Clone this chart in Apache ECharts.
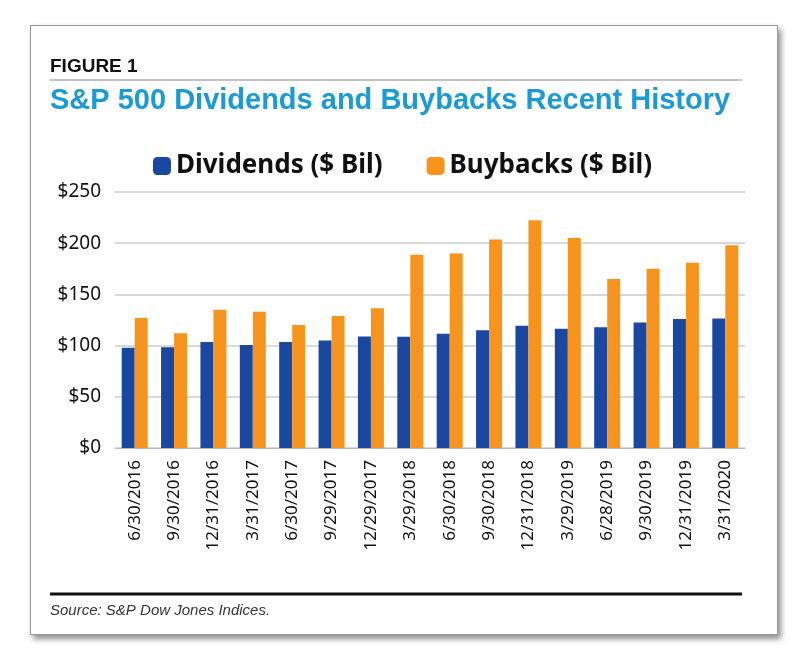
<!DOCTYPE html>
<html>
<head>
<meta charset="utf-8">
<script src="https://cdn.jsdelivr.net/npm/echarts@6/dist/echarts.min.js"></script>
<style>
body { margin: 0; background: #fff; }
#frame { position: absolute; left: 30px; top: 25px; width: 746px; height: 608px; border: 1px solid #999; box-shadow: 3px 4px 6px rgba(0,0,0,0.45); background: #fff; }
#chart { position: absolute; left: 0; top: 0; width: 805px; height: 664px; }
</style>
</head>
<body>
<div id="frame"></div>
<div id="chart"></div>
<script>
let quarters = ["6/30/2016", "9/30/2016", "12/31/2016", "3/31/2017", "6/30/2017", "9/29/2017", "12/29/2017", "3/29/2018",
    "6/30/2018", "9/30/2018", "12/31/2018", "3/29/2019", "6/28/2019", "9/30/2019", "12/31/2019", "3/31/2020"];
let dividends = [98, 98.3, 103.6, 100.6, 103.6, 105, 109, 108.6, 111.5, 115, 119.5, 116.5, 118, 122.5, 126, 126.5];
let buybacks = [127, 112, 135, 133, 120, 129, 136.5, 188.6, 190, 203.5, 222.5, 205, 165, 175, 181, 198];

let chart = echarts.init(document.getElementById("chart"));
let option = {
    animation: false,
    graphic: [
        { type: "text", left: 50, top: 57, style: { text: "FIGURE 1", font: "bold 19px 'Liberation Sans', Arial", fill: "#111" } },
        { type: "line", shape: { x1: 50, y1: 80, x2: 742, y2: 80 }, style: { stroke: "#888", lineWidth: 1 } },
        { type: "text", left: 50, top: 86, style: { text: "S&P 500 Dividends and Buybacks Recent History", font: "bold 29px 'Liberation Sans', Arial", fill: "#1b9ad6" } },
        { type: "line", shape: { x1: 50, y1: 594, x2: 742, y2: 594 }, style: { stroke: "#111", lineWidth: 3 } },
        { type: "text", left: 50, top: 603, style: { text: "Source: S&P Dow Jones Indices.", font: "italic 15px 'Liberation Sans', Arial", fill: "#333" } }
    ],
    legend: {
        top: 148,
        left: "center",
        itemWidth: 18,
        itemHeight: 18,
        itemGap: 44,
        textStyle: { fontSize: 26, fontWeight: "bold", color: "#111", fontFamily: "'Noto Sans', 'Open Sans', sans-serif" },
        data: ["Dividends ($ Bil)", "Buybacks ($ Bil)"]
    },
    grid: { left: 115, right: 60, top: 192, bottom: 216 },
    xAxis: {
        type: "category",
        data: quarters,
        axisTick: { show: false },
        axisLine: { lineStyle: { color: "#bbb" } },
        axisLabel: { rotate: 90, fontSize: 17, color: "#111", margin: 12, interval: 0, fontFamily: "'Noto Sans', sans-serif" }
    },
    yAxis: {
        type: "value",
        min: 0, max: 250, interval: 50,
        axisLabel: { formatter: "${value}", fontSize: 19, color: "#111", margin: 14, fontFamily: "'Noto Sans', sans-serif" },
        splitLine: { lineStyle: { color: "#ccc", width: 1.5 } }
    },
    series: [
        { name: "Dividends ($ Bil)", type: "bar", data: dividends, barWidth: 13, barGap: "0%", itemStyle: { color: "#1a47a0" } },
        { name: "Buybacks ($ Bil)", type: "bar", data: buybacks, barWidth: 13, itemStyle: { color: "#f7941d" } }
    ]
};
chart.setOption(option);
</script>
</body>
</html>
